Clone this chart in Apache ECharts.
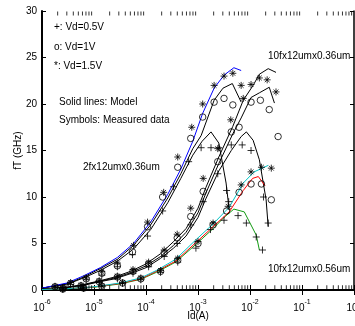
<!DOCTYPE html>
<html>
<head>
<meta charset="utf-8">
<script src="https://cdn.jsdelivr.net/npm/echarts@6/dist/echarts.min.js"></script>
<style>html,body{margin:0;padding:0;background:#fff}#c{width:355px;height:326px}</style>
</head>
<body>
<div id="c"></div>
<script>
// ---- Data: [log10(Id/A), fT (GHz)] ----
// 2fx12umx0.36um
const model2f_05 = [[-6,0.2],[-5.5,0.65],[-5.2,1.3],[-4.88,2.1],[-4.55,3.1],[-4.24,4.4],[-3.91,6.5],[-3.58,9.4],[-3.33,12.0],[-3.10,14.5],[-2.92,16.0],[-2.75,17.0],[-2.6,15.8],[-2.46,11.5],[-2.40,8.6]];
const model2f_10 = [[-6,0.2],[-5.5,0.7],[-5.2,1.4],[-4.88,2.3],[-4.55,3.3],[-4.24,4.8],[-3.91,7.0],[-3.58,9.9],[-3.33,12.5],[-3.10,15.2],[-2.94,16.6],[-2.69,20.4],[-2.52,21.7],[-2.34,22.2],[-2.17,20.2]];
const model2f_15 = [[-6,0.2],[-5.52,0.75],[-5.21,1.5],[-4.88,2.4],[-4.55,3.5],[-4.24,5.0],[-3.91,7.3],[-3.58,10.3],[-3.33,13.0],[-3.10,16.0],[-2.91,19.0],[-2.69,21.7],[-2.50,23.1],[-2.31,23.9],[-2.17,23.6]];
const meas2f_05 = [[-5.75,0.3],[-5.45,0.6],[-5.15,1.1],[-4.85,1.6],[-4.55,2.5],[-4.26,3.8],[-3.97,5.8],[-3.68,8.5],[-3.47,11.1],[-3.18,13.8],[-2.94,15.3],[-2.75,15.3],[-2.60,15.3],[-2.45,10.7],[-2.41,9.5]];
const meas2f_10 = [[-5.75,0.35],[-5.45,0.7],[-5.15,1.2],[-4.85,1.8],[-4.55,2.6],[-4.26,4.1],[-3.97,6.8],[-3.68,10.0],[-3.39,13.2],[-3.14,16.3],[-2.91,18.6],[-2.69,20.2],[-2.50,20.6],[-2.33,19.9],[-2.21,17.5]];
const meas2f_15 = [[-5.75,0.4],[-5.45,0.8],[-5.15,1.3],[-4.85,2.0],[-4.55,2.9],[-4.24,4.8],[-3.97,7.3],[-3.66,10.5],[-3.39,14.3],[-3.12,17.5],[-2.91,20.0],[-2.69,22.0],[-2.50,23.0],[-2.33,23.3],[-2.17,22.0]];
// 10fx12umx0.36um
const model10f_05 = [[-6,0.1],[-5.5,0.28],[-5.2,0.5],[-4.88,0.9],[-4.6,1.2],[-4.30,1.75],[-4.0,2.4],[-3.72,3.4],[-3.47,4.5],[-3.23,5.8],[-3.0,7.8],[-2.85,9.8],[-2.6,12.8],[-2.36,15.0],[-2.17,16.5],[-2.07,17.0],[-1.94,16.1],[-1.82,14.0],[-1.69,9.7],[-1.65,6.8]];
const model10f_10 = [[-6,0.1],[-5.5,0.3],[-5.2,0.55],[-4.88,0.95],[-4.6,1.3],[-4.30,1.85],[-4.0,2.6],[-3.72,3.6],[-3.47,4.8],[-3.23,6.2],[-3.0,8.3],[-2.85,10.4],[-2.60,13.6],[-2.33,16.8],[-2.17,18.5],[-1.98,20.7],[-1.82,21.2],[-1.63,21.8],[-1.53,20.1]];
const model10f_15 = [[-6,0.1],[-5.5,0.3],[-5.2,0.6],[-4.88,1.0],[-4.6,1.4],[-4.30,2.0],[-4.0,2.8],[-3.72,3.9],[-3.47,5.2],[-3.23,6.6],[-3.0,8.8],[-2.85,11.0],[-2.60,14.3],[-2.33,17.6],[-2.13,20.4],[-1.94,22.0],[-1.82,23.2],[-1.65,23.8],[-1.5,23.4]];
const meas10f_05 = [[-5.6,0.2],[-5.25,0.4],[-4.9,0.8],[-4.55,1.2],[-4.25,1.8],[-3.95,2.5],[-3.65,3.6],[-3.40,5.0],[-3.14,7.0],[-2.90,9.5],[-2.62,12.5],[-2.36,15.6],[-2.15,15.6],[-1.98,15.0],[-1.74,10.0],[-1.65,7.2]];
const meas10f_10 = [[-5.6,0.2],[-5.25,0.45],[-4.9,0.9],[-4.55,1.4],[-4.25,2.0],[-3.95,2.8],[-3.65,4.0],[-3.40,5.6],[-3.14,7.9],[-2.90,10.6],[-2.62,13.8],[-2.36,17.0],[-1.98,20.2],[-1.80,20.4],[-1.63,19.4],[-1.46,16.5]];
const meas10f_15 = [[-5.6,0.25],[-5.25,0.5],[-4.9,1.0],[-4.55,1.5],[-4.25,2.2],[-3.95,3.0],[-3.65,4.3],[-3.40,6.0],[-3.14,8.8],[-2.90,12.0],[-2.62,15.2],[-2.37,18.3],[-2.13,20.6],[-1.98,22.1],[-1.82,22.8],[-1.67,22.6],[-1.50,21.3]];
// 10fx12umx0.56um
const model056_05 = [[-6,0.05],[-5.5,0.14],[-5.0,0.3],[-4.5,0.65],[-4.1,1.15],[-3.8,1.9],[-3.43,3.0],[-3.04,4.9],[-2.71,6.6],[-2.50,7.8],[-2.31,8.7],[-2.11,8.4],[-1.88,5.9],[-1.82,4.3]];
const model056_10 = [[-6,0.05],[-5.5,0.15],[-5.0,0.33],[-4.5,0.7],[-4.1,1.2],[-3.8,2.0],[-3.43,3.1],[-3.04,5.1],[-2.71,6.8],[-2.40,8.4],[-2.13,10.7],[-1.95,12.0],[-1.84,12.2],[-1.71,11.2]];
const model056_15 = [[-6,0.05],[-5.5,0.15],[-5.0,0.35],[-4.5,0.75],[-4.1,1.3],[-3.8,2.1],[-3.43,3.3],[-3.04,5.4],[-2.71,7.1],[-2.40,8.9],[-2.13,11.5],[-1.92,12.7],[-1.65,13.4]];
const meas056_05 = [[-5.6,0.1],[-5.2,0.2],[-4.85,0.4],[-4.45,0.7],[-4.1,1.1],[-3.72,1.9],[-3.39,3.0],[-3.04,4.5],[-2.76,6.5],[-2.50,7.5],[-2.23,8.0],[-2.07,7.2],[-1.88,5.7],[-1.76,4.3]];
const meas056_10 = [[-5.6,0.1],[-5.2,0.2],[-4.85,0.4],[-4.45,0.75],[-4.1,1.2],[-3.72,2.0],[-3.39,3.2],[-3.0,5.0],[-2.71,7.0],[-2.45,8.5],[-2.21,10.5],[-1.98,11.4],[-1.78,11.4],[-1.59,9.7]];
const meas056_15 = [[-5.6,0.1],[-5.2,0.2],[-4.85,0.45],[-4.45,0.8],[-4.1,1.3],[-3.72,2.1],[-3.39,3.4],[-3.0,5.2],[-2.71,7.2],[-2.42,9.0],[-2.17,11.3],[-1.98,12.7],[-1.78,13.2],[-1.59,13.1]];

const decades = [-6,-5,-4,-3,-2,-1];
const minorMultipliers = [2,3,4,5,6,7,8,9];
const annotations = [
  ['+: Vd=0.5V',54,28],['o: Vd=1V',54,48],['*: Vd=1.5V',54,67],
  ['Solid lines: Model',59,103],['Symbols: Measured data',59,121],
  ['2fx12umx0.36um',83,168],['10fx12umx0.36um',268,57],['10fx12umx0.56um',268,270]
];

const toXY = arr => arr.map(p => [Math.pow(10,p[0]), p[1]]);
const FONT = 'Liberation Sans, Arial, sans-serif';
const PLUS = 'path://M0,5L10,5M5,0L5,10';
const STAR = 'path://M0,5L10,5M5,0L5,10M1.6,1.6L8.4,8.4M8.4,1.6L1.6,8.4';

function line(data, color){
  return {type:'line', data: toXY(data), showSymbol:false, symbol:'none', smooth:false,
    lineStyle:{color:color, width:1}, z:3, silent:true, animation:false};
}
function marks(data, sym){
  const s = {type:'scatter', data: toXY(data), z:4, silent:true, animation:false,
    itemStyle:{color:'rgba(0,0,0,0)', borderColor:'#000', borderWidth:1}};
  if(sym==='o'){ s.symbol='circle'; s.symbolSize=6.5; }
  else if(sym==='+'){ s.symbol=PLUS; s.symbolSize=7; }
  else { s.symbol=STAR; s.symbolSize=7; }
  return s;
}

// minor log ticks (2..9 in each decade), drawn as tiny marks just inside the bottom and top axes
const minorBottom = [], minorTop = [];
decades.forEach(d => minorMultipliers.forEach(k => { minorBottom.push([k*Math.pow(10,d),0.3]); minorTop.push([k*Math.pow(10,d),30]); }));

const chart = echarts.init(document.getElementById('c'), null, {renderer:'canvas'});
const axisLine = w => ({show:true, lineStyle:{color:'#000', width:w}});
chart.setOption({
  animation:false,
  backgroundColor:'#fff',
  grid:{left:42, right:1, top:11, bottom:36, containLabel:false, outerBoundsMode:'none'},
  xAxis:[{
    type:'log', logBase:10, min:1e-6, max:1, position:'bottom',
    axisLine:axisLine(2), axisTick:{show:true, inside:true, length:5, lineStyle:{color:'#000'}},
    splitLine:{show:false}, minorTick:{show:false},
    name:'Id(A)', nameLocation:'middle', nameGap:21, nameMoveOverlap:false,
    nameTextStyle:{fontFamily:FONT, fontSize:10, color:'#000'},
    axisLabel:{margin:9, fontFamily:FONT, color:'#000',
      formatter: v => '{b|10}{s|' + Math.round(Math.log10(v)) + '}',
      rich:{b:{fontSize:10, fontFamily:FONT, color:'#000', lineHeight:14, verticalAlign:'bottom'},
            s:{fontSize:7, fontFamily:FONT, color:'#000', lineHeight:14, verticalAlign:'top'}}}
  },{
    type:'log', logBase:10, min:1e-6, max:1, position:'top',
    axisLine:axisLine(1.5), axisTick:{show:true, inside:true, length:5, lineStyle:{color:'#000'}},
    axisLabel:{show:false}, splitLine:{show:false}
  }],
  yAxis:[{
    type:'value', min:0, max:30, interval:5, position:'left',
    axisLine:axisLine(2), axisTick:{show:true, inside:true, length:4, lineStyle:{color:'#000'}},
    splitLine:{show:false},
    name:'fT (GHz)', nameLocation:'middle', nameGap:19, nameRotate:90, nameMoveOverlap:false,
    nameTextStyle:{fontFamily:FONT, fontSize:10, color:'#000'},
    axisLabel:{margin:5, fontFamily:FONT, fontSize:10, color:'#000'}
  },{
    type:'value', min:0, max:30, interval:5, position:'right',
    axisLine:axisLine(1.5), axisTick:{show:true, inside:true, length:4, lineStyle:{color:'#000'}},
    axisLabel:{show:false}, splitLine:{show:false}
  }],
  series:[
    line(model2f_05,'#000'), line(model2f_10,'#000'), line(model2f_15,'#0000ff'),
    line(model10f_05,'#000'), line(model10f_10,'#000'), line(model10f_15,'#000'),
    line(model056_05,'#129a12'), line(model056_10,'#ff0000'), line(model056_15,'#00c4c4'),
    marks(meas2f_05,'+'), marks(meas2f_10,'o'), marks(meas2f_15,'*'),
    marks(meas10f_05,'+'), marks(meas10f_10,'o'), marks(meas10f_15,'*'),
    marks(meas056_05,'+'), marks(meas056_10,'o'), marks(meas056_15,'*'),
    {type:'scatter', data:minorBottom, symbol:'rect', symbolSize:[1,4], symbolOffset:[0,0],
      itemStyle:{color:'#000'}, clip:false, silent:true, z:6},
    {type:'scatter', data:minorTop, symbol:'rect', symbolSize:[1,4], symbolOffset:[0,2.5],
      itemStyle:{color:'#000'}, clip:false, silent:true, z:6}
  ],
  graphic: annotations.map(a => ({type:'text', left:a[1], top:a[2]-6, silent:true,
    style:{text:a[0], fill:'#000', font:'10px ' + FONT}}))
});
</script>
</body>
</html>
